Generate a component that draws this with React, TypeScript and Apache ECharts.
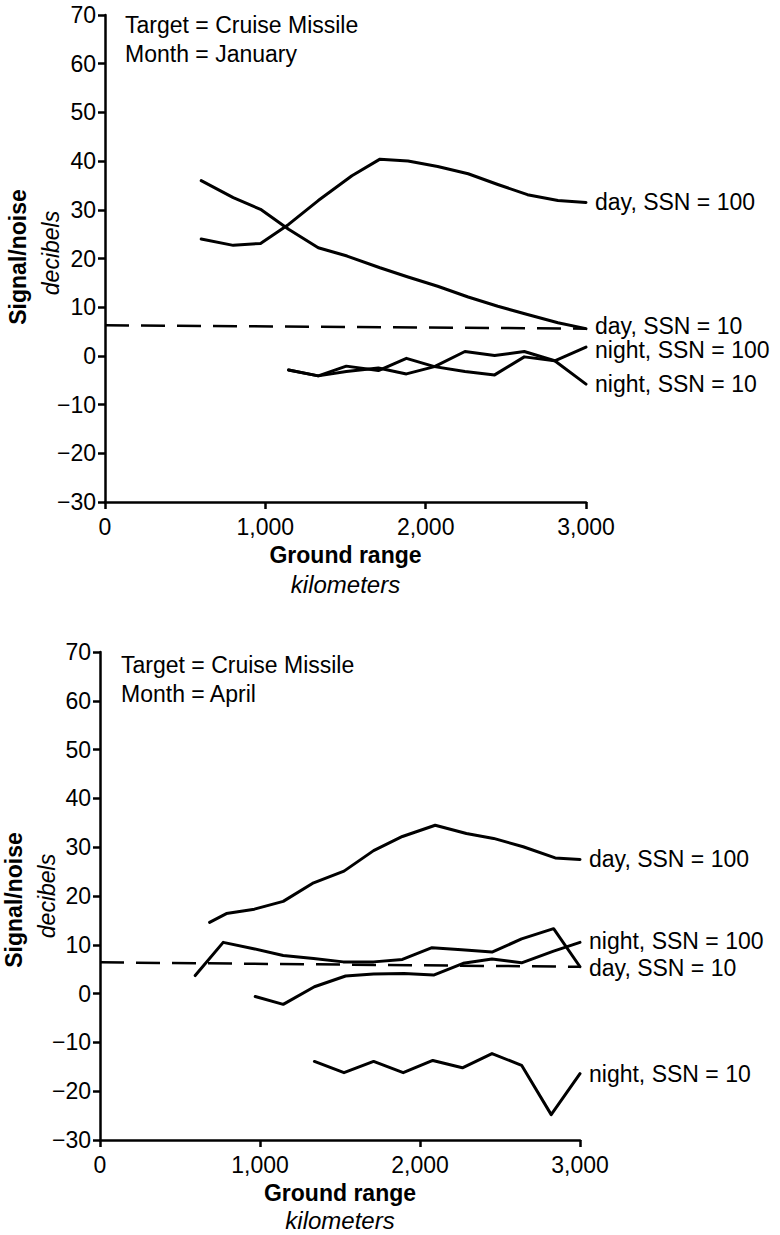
import React, { useEffect, useRef } from "react";
import * as echarts from "echarts";

const FONT = "'Liberation Sans', Arial, sans-serif";

// axis ranges / ticks
const xMin = 0;
const xMax = 3000;
const xStep = 1000;
const yMin = -30;
const yMax = 70;
const yStep = 10;

// January panel (ground range km, signal/noise dB)
const janDay100 = [[600, 24.0], [800, 22.7], [970, 23.1], [1145, 27.0], [1330, 31.9], [1540, 37.0], [1715, 40.4], [1890, 40.0], [2075, 38.9], [2265, 37.4], [2450, 35.2], [2635, 33.1], [2825, 31.9], [3000, 31.5]];
const janDay10 = [[600, 36.0], [800, 32.5], [970, 30.1], [1145, 26.0], [1330, 22.2], [1510, 20.5], [1715, 18.1], [1890, 16.2], [2075, 14.3], [2265, 12.1], [2450, 10.2], [2635, 8.5], [2825, 6.8], [3000, 5.6]];
const janNight100 = [[1145, -2.9], [1330, -4.1], [1505, -3.2], [1705, -2.5], [1880, -3.7], [2055, -2.2], [2245, 0.9], [2430, 0.1], [2615, 0.9], [2805, -1.0], [3000, 1.8]];
const janNight10 = [[1145, -2.9], [1330, -4.1], [1505, -2.1], [1705, -3.0], [1880, -0.5], [2055, -2.2], [2245, -3.2], [2430, -3.9], [2615, -0.2], [2805, -1.0], [3000, -5.8]];
const janThreshold = [[0, 6.3], [3000, 5.6]];

// April panel
const aprDay100 = [[685, 14.6], [790, 16.4], [965, 17.3], [1145, 18.9], [1335, 22.7], [1525, 25.1], [1710, 29.3], [1890, 32.2], [2095, 34.5], [2290, 32.8], [2460, 31.8], [2645, 30.1], [2845, 27.8], [3000, 27.5]];
const aprDay10 = [[595, 3.7], [770, 10.5], [960, 9.2], [1145, 7.8], [1335, 7.2], [1520, 6.5], [1710, 6.5], [1890, 7.0], [2075, 9.4], [2260, 9.0], [2450, 8.5], [2635, 11.2], [2835, 13.3], [3000, 5.5]];
const aprNight100 = [[970, -0.6], [1145, -2.2], [1340, 1.4], [1535, 3.6], [1710, 4.0], [1900, 4.1], [2085, 3.8], [2270, 6.2], [2450, 7.1], [2635, 6.3], [2835, 8.7], [3000, 10.5]];
const aprNight10 = [[1340, -13.9], [1525, -16.2], [1710, -13.9], [1895, -16.2], [2080, -13.7], [2265, -15.2], [2450, -12.3], [2635, -14.7], [2820, -24.8], [3000, -16.4]];
const aprThreshold = [[0, 6.4], [3000, 5.5]];

const seriesLabels = ["day, SSN = 100", "day, SSN = 10", "night, SSN = 100", "night, SSN = 10"];
const panelTitles = [
  ["Target = Cruise Missile", "Month = January"],
  ["Target = Cruise Missile", "Month = April"],
];
const yName = ["Signal/noise", "decibels"];
const xName = ["Ground range", "kilometers"];

const GRIDS = [
  { left: 105, top: 15, width: 481, height: 487 },
  { left: 100, top: 652, width: 480, height: 488 },
];

function fmtX(v: number) {
  return v.toLocaleString("en-US");
}
function fmtY(v: number) {
  return v < 0 ? "\u2212" + Math.abs(v) : String(v);
}

function makeAxes(i: number) {
  const line = { lineStyle: { color: "#000", width: 2.5 } };
  const x = {
    gridIndex: i,
    type: "value",
    min: xMin,
    max: xMax,
    interval: xStep,
    axisLine: { show: true, onZero: false, ...line },
    axisTick: { show: true, length: 7, lineStyle: { color: "#000", width: 2.5 } },
    axisLabel: { color: "#000", fontSize: 23, fontFamily: FONT, margin: 13, formatter: fmtX },
    splitLine: { show: false },
  };
  const y = {
    gridIndex: i,
    type: "value",
    min: yMin,
    max: yMax,
    interval: yStep,
    axisLine: { show: true, onZero: false, ...line },
    axisTick: { show: true, length: 7, lineStyle: { color: "#000", width: 2.5 } },
    axisLabel: { color: "#000", fontSize: 23, fontFamily: FONT, margin: 9, formatter: fmtY },
    splitLine: { show: false },
  };
  return { x, y };
}

function line(data: number[][], gi: number, label?: string, dashed?: boolean, dy = 0) {
  return {
    type: "line",
    xAxisIndex: gi,
    yAxisIndex: gi,
    data,
    symbol: "none",
    silent: true,
    lineStyle: dashed
      ? { color: "#000", width: 2.5, type: [24, 12] }
      : { color: "#000", width: 3, cap: "round", join: "round" },
    endLabel: label
      ? { show: true, formatter: label, color: "#000", fontSize: 23, fontFamily: FONT, distance: 9, offset: [0, dy] }
      : { show: false },
    z: dashed ? 1 : 2,
  };
}

function texts() {
  const out: any[] = [];
  const titlePos = [
    { x: 125, y: [25, 54] },
    { x: 121, y: [665, 693.5] },
  ];
  const yNamePos = [
    { x: [18, 51], y: [257, 253] },
    { x: [14, 47], y: [900, 896] },
  ];
  const xNameY = [
    [555, 584],
    [1193, 1220],
  ];
  for (let i = 0; i < 2; i++) {
    const g = GRIDS[i];
    panelTitles[i].forEach((t, k) => {
      out.push({
        type: "text",
        x: titlePos[i].x,
        y: titlePos[i].y[k],
        style: { text: t, fill: "#000", fontSize: 23, fontFamily: FONT, align: "left", verticalAlign: "middle" },
      });
    });
    yName.forEach((t, k) => {
      out.push({
        type: "text",
        x: yNamePos[i].x[k],
        y: yNamePos[i].y[k],
        rotation: Math.PI / 2,
        style: {
          text: t,
          fill: "#000",
          fontSize: 23,
          fontFamily: FONT,
          fontWeight: k === 0 ? "bold" : "normal",
          fontStyle: k === 1 ? "italic" : "normal",
          align: "center",
          verticalAlign: "middle",
        },
      });
    });
    xName.forEach((t, k) => {
      out.push({
        type: "text",
        x: g.left + g.width / 2,
        y: xNameY[i][k],
        style: {
          text: t,
          fill: "#000",
          fontSize: k === 0 ? 23 : 24,
          fontFamily: FONT,
          fontWeight: k === 0 ? "bold" : "normal",
          fontStyle: k === 1 ? "italic" : "normal",
          align: "center",
          verticalAlign: "middle",
        },
      });
    });
  }
  return out;
}

export default function App() {
  const ref = useRef<HTMLDivElement>(null);
  useEffect(() => {
    const chart = echarts.init(ref.current!, null, { renderer: "svg" });
    const a0 = makeAxes(0);
    const a1 = makeAxes(1);
    chart.setOption({
      animation: false,
      backgroundColor: "#fff",
      grid: GRIDS,
      xAxis: [a0.x, a1.x],
      yAxis: [a0.y, a1.y],
      series: [
        line(janThreshold, 0, undefined, true),
        line(janDay100, 0, seriesLabels[0]),
        line(janDay10, 0, seriesLabels[1], false, -3),
        line(janNight100, 0, seriesLabels[2], false, 3),
        line(janNight10, 0, seriesLabels[3]),
        line(aprThreshold, 1, undefined, true),
        line(aprDay100, 1, seriesLabels[0]),
        line(aprDay10, 1, seriesLabels[1], false, 1),
        line(aprNight100, 1, seriesLabels[2], false, -1),
        line(aprNight10, 1, seriesLabels[3]),
      ],
      graphic: texts(),
    });
    return () => chart.dispose();
  }, []);
  return (
    <div
      ref={ref}
      style={{ position: "absolute", left: 0, top: 0, width: 780, height: 1235, background: "#fff" }}
    />
  );
}
